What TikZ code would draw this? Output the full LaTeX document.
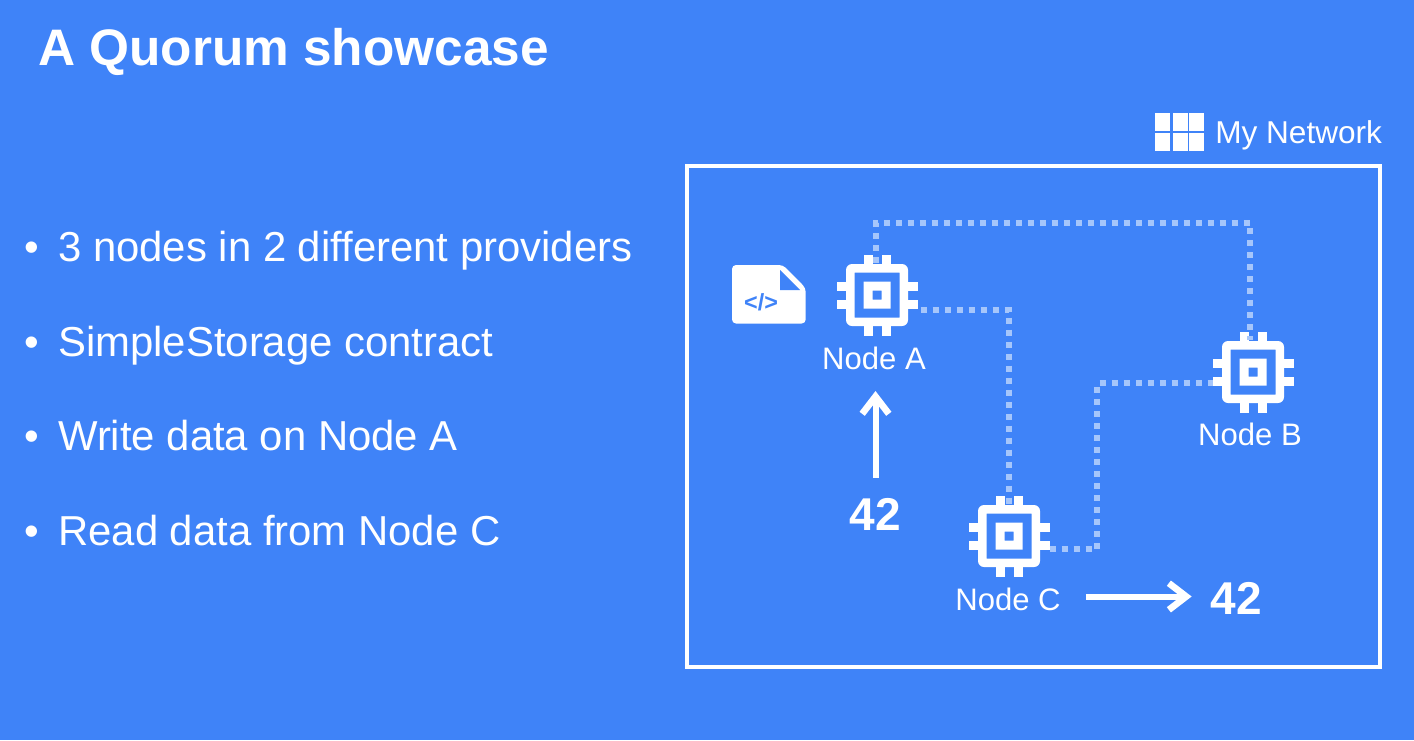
\documentclass[tikz,border=0pt]{standalone}
\usepackage{fontspec}
\setmainfont{Liberation Sans}
\usetikzlibrary{arrows.meta}
\definecolor{bg}{HTML}{3F83F8}
\definecolor{dotc}{HTML}{A6C6FB}
\tikzset{
  x=0.75pt,y=-0.75pt,
  title/.style={anchor=base west,inner sep=0,text=white,font=\fontsize{38.5pt}{42pt}\selectfont\bfseries},
  bullet/.style={anchor=base west,inner sep=0,text=white,font=\fontsize{31.4pt}{34pt}\selectfont},
  label/.style={inner sep=0,text=white,font=\fontsize{23.3pt}{26pt}\selectfont},
  value/.style={inner sep=0,text=white,font=\fontsize{34.5pt}{38pt}\selectfont\bfseries},
  chipbox/.style={minimum width=60.75pt,minimum height=60.75pt,inner sep=0,outer sep=0},
  link/.style={draw=dotc,line width=4.5pt,dash pattern=on 4.5pt off 4.5pt},
  flow/.style={draw=white,line width=4.5pt,-{Straight Barb[length=13pt,width=20pt,line width=5pt]}},
}
\newcommand{\chipat}[1]{%
  \begin{scope}[shift={(#1.center)}]
    \fill[white,rounded corners=4.5pt,even odd rule] (-31,-31) rectangle (31,31)
      [sharp corners] (-22.5,-22.5) rectangle (22.5,22.5);
    \fill[white,even odd rule] (-13.5,-13.5) rectangle (13.5,13.5) (-4.5,-4.5) rectangle (4.5,4.5);
    \foreach \p in {-9,9}{
      \fill[white] (\p-4.5,-40.5) rectangle (\p+4.5,-30);
      \fill[white] (\p-4.5,30) rectangle (\p+4.5,40.5);
      \fill[white] (-40.5,\p-4.5) rectangle (-30,\p+4.5);
      \fill[white] (30,\p-4.5) rectangle (40.5,\p+4.5);
    }
  \end{scope}}
\begin{document}
\begin{tikzpicture}
\useasboundingbox (0,0) rectangle (1414,740);
\fill[bg] (0,0) rectangle (1414,740);

\node[title] (ttl) at (38,65) {A Quorum showcase};
\node[bullet] (b1) at (24,261) {\makebox[25.5pt][l]{•}3 nodes in 2 different providers};
\node[bullet] (b2) at (24,356) {\makebox[25.5pt][l]{•}SimpleStorage contract};
\node[bullet] (b3) at (24,450) {\makebox[25.5pt][l]{•}Write data on Node A};
\node[bullet] (b4) at (24,545) {\makebox[25.5pt][l]{•}Read data from Node C};

% network icon
\foreach \cx in {1155.3,1172.5,1189.3}{
  \foreach \cy in {113,133}{
    \fill[white] (\cx,\cy) rectangle ++(15,18);
  }
}
\node[anchor=base west,inner sep=0,text=white,font=\fontsize{23.7pt}{26pt}\selectfont] (net) at (1215,143) {My Network};
\draw[white,line width=3pt] (686.5,166) rectangle (1379.7,667);

% document icon
\fill[white,rounded corners=3pt] (732,265) -- (783,265) -- (805.7,288) -- (805.7,323.5) -- (732,323.5) -- cycle;
\fill[bg] (780,270) -- (780,290) -- (800,290) -- cycle;
\node[inner sep=0,text=bg,font=\fontsize{17.5pt}{19pt}\selectfont\bfseries] (code) at (761,302) {</>};

% chips
\node[chipbox] (A) at (877,295) {};
\node[chipbox] (B) at (1253,372) {};
\node[chipbox] (C) at (1009,536) {};
\chipat{A}\chipat{B}\chipat{C}

\node[label] (la) at (874,358) {Node A};
\node[label] (lb) at (1250,434) {Node B};
\node[label] (lc) at (1008,599) {Node C};
\node[value] (va) at (875.5,514) {42};
\node[value] (vc) at (1236,598) {42};

% links
\draw[link] ([shift={(-1.5,8)}]A.north) -- ++(0,-40) -| ([shift={(-3,8)}]B.north);
\draw[link] ([shift={(3,15)}]A.east) -| ([shift={(0,10)}]C.north);
\draw[link] ([shift={(0,13)}]C.east) -- ++(47.5,0) |- ([shift={(0,11)}]B.west);

% arrows
\coordinate (vs) at ([yshift=15pt]va.north);
\coordinate (ve) at ([yshift=-16pt]la.south);
\draw[flow] (vs) -- (vs |- ve);
\coordinate (hs) at ([shift={(25,-2.5)}]lc.east);
\coordinate (he) at ([shift={(-18.5,0)}]vc.west);
\draw[flow] (hs) -- (hs -| he);
\end{tikzpicture}
\end{document}
